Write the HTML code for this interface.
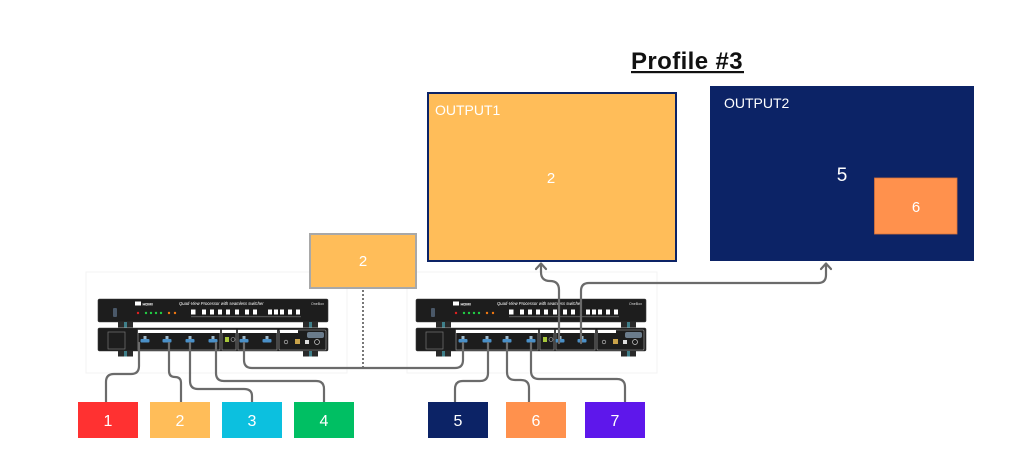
<!DOCTYPE html>
<html><head><meta charset="utf-8"><style>
html,body{margin:0;padding:0;background:#fff;}
svg{display:block;font-family:"Liberation Sans",sans-serif;}
</style></head><body>
<svg width="1024" height="461" viewBox="0 0 1024 461" xmlns="http://www.w3.org/2000/svg">
<rect width="1024" height="461" fill="#fff"/>

<!-- faint image bounds -->
<rect x="86" y="272" width="261" height="101" fill="none" stroke="#f3f3f3" stroke-width="1"/>
<rect x="407" y="272" width="250" height="101" fill="none" stroke="#f3f3f3" stroke-width="1"/>

<!-- title -->
<text x="631" y="69" font-size="24" font-weight="bold" fill="#111" letter-spacing="0.4">Profile #3</text>
<rect x="631" y="71" width="113" height="2.2" fill="#111"/>

<!-- OUTPUT1 -->
<rect x="428" y="93" width="248" height="168" fill="#ffbd59" stroke="#0c2366" stroke-width="2"/>
<text x="435" y="115" font-size="14" fill="#fff">OUTPUT1</text>
<text x="551" y="183" font-size="15" fill="#fff" text-anchor="middle">2</text>

<!-- OUTPUT2 -->
<rect x="710" y="86" width="264" height="175" fill="#0c2366"/>
<text x="724" y="108" font-size="14" fill="#fff">OUTPUT2</text>
<text x="842" y="181" font-size="19" fill="#fff" text-anchor="middle">5</text>
<rect x="874.5" y="178" width="82.5" height="56" fill="#ff914d" stroke="#d9733a" stroke-width="0.8"/>
<text x="916" y="212" font-size="15" fill="#fff" text-anchor="middle">6</text>

<!-- small box 2 -->
<rect x="310" y="234" width="106" height="54" fill="#ffbd59" stroke="#a8a8a8" stroke-width="2"/>
<text x="363" y="266" font-size="15" fill="#fff" text-anchor="middle">2</text>

<!-- dotted line -->
<line x1="363" y1="290" x2="363" y2="367" stroke="#777" stroke-width="2" stroke-dasharray="2 2"/>

<!-- LEFT DEVICE -->
<g transform="translate(98,299)">
  <rect x="0" y="0" width="230" height="23" rx="1.5" fill="#1d1d1d" stroke="#3a3a3a" stroke-width="0.6"/>
  <rect x="15" y="9" width="4" height="9" rx="1" fill="#4a5868"/>
  <rect x="37" y="2.5" width="6" height="4" fill="#fff"/>
  <text x="44.5" y="6.3" font-size="4" fill="#fff" font-weight="bold">HDMI</text>
  <text x="81" y="5.8" font-size="4.2" fill="#fff" font-style="italic">Quad-View Processor with seamless switcher</text>
  <circle cx="40" cy="14" r="1.2" fill="#e02020"/>
  <circle cx="48" cy="14" r="1.2" fill="#22cc44"/>
  <circle cx="53" cy="14" r="1.2" fill="#22cc44"/>
  <circle cx="58" cy="14" r="1.2" fill="#22cc44"/>
  <circle cx="63" cy="14" r="1.2" fill="#22cc44"/>
  <circle cx="71" cy="14" r="1.2" fill="#ee7711"/>
  <circle cx="77" cy="14" r="1.2" fill="#ee7711"/>
  <g fill="#fff">
    <rect x="93" y="10.5" width="4.5" height="5"/><rect x="104" y="10.5" width="4" height="5"/>
    <rect x="112" y="10.5" width="4" height="5"/><rect x="120" y="10.5" width="4" height="5"/>
    <rect x="128" y="10.5" width="4" height="5"/><rect x="137" y="10.5" width="4" height="5"/>
    <rect x="147" y="10.5" width="4" height="5"/><rect x="155" y="10.5" width="4" height="5"/>
    <rect x="170" y="10.5" width="4" height="5"/><rect x="176" y="10.5" width="4" height="5"/>
    <rect x="182" y="10.5" width="4" height="5"/><rect x="190" y="10.5" width="4" height="5"/>
    <rect x="198" y="10.5" width="4" height="5"/>
  </g>
  <g fill="#888"><rect x="93" y="17.5" width="110" height="0.6"/></g>
  <text x="213" y="6" font-size="3.6" fill="#ddd">OneBox</text>
  <rect x="20" y="23" width="15" height="5.5" fill="#2a2a2a"/><rect x="26" y="23" width="3" height="5.5" fill="#3f7f8a"/>
  <rect x="205" y="23" width="15" height="5.5" fill="#2a2a2a"/><rect x="211" y="23" width="3" height="5.5" fill="#3f7f8a"/>
  <rect x="0" y="29" width="230" height="23" rx="1.5" fill="#1d1d1d" stroke="#3a3a3a" stroke-width="0.6"/>
  <rect x="10" y="33" width="17" height="17" fill="none" stroke="#777" stroke-width="0.7"/>
  <g fill="none" stroke="#aaa" stroke-width="0.6">
    <rect x="40" y="31" width="82" height="20"/><rect x="124" y="31" width="14" height="20"/>
    <rect x="140" y="31" width="39" height="20"/><rect x="181" y="31" width="47" height="20" rx="1"/>
  </g>
  <g fill="#fff">
    <rect x="40" y="31" width="82" height="3"/><rect x="124" y="31" width="14" height="3"/>
    <rect x="140" y="31" width="39" height="3"/><rect x="182" y="31" width="18" height="3"/>
  </g>
  <rect x="127" y="38" width="4" height="5" fill="#a8c83a"/>
  <circle cx="135" cy="40.5" r="2" fill="none" stroke="#bbb" stroke-width="0.6"/>
  <rect x="209" y="33" width="17" height="6" rx="2" fill="#6b7c8c"/>
  <rect x="197" y="40" width="5" height="5" fill="#c9a34a"/>
  <rect x="207" y="41" width="4" height="4" fill="#ddd"/>
  <circle cx="219" cy="43" r="2.5" fill="none" stroke="#ccc" stroke-width="0.7"/>
  <circle cx="188" cy="43" r="1.8" fill="none" stroke="#ccc" stroke-width="0.6"/>
  <g fill="#4a90c8">
    <rect x="42.5" y="40" width="9" height="3.5" rx="1"/><rect x="64.5" y="40" width="9" height="3.5" rx="1"/>
    <rect x="87.5" y="40" width="9" height="3.5" rx="1"/><rect x="110.5" y="40" width="9" height="3.5" rx="1"/>
    <rect x="141.5" y="40" width="9" height="3.5" rx="1"/><rect x="164.5" y="40" width="9" height="3.5" rx="1"/>
  </g>
  <g fill="#9fb8c8">
    <rect x="45.5" y="37" width="3" height="3"/><rect x="67.5" y="37" width="3" height="3"/>
    <rect x="90.5" y="37" width="3" height="3"/><rect x="113.5" y="37" width="3" height="3"/>
    <rect x="144.5" y="37" width="3" height="3"/><rect x="167.5" y="37" width="3" height="3"/>
  </g>
  <rect x="20" y="52" width="15" height="5.5" fill="#2a2a2a"/><rect x="26" y="52" width="3" height="5.5" fill="#3f7f8a"/>
  <rect x="205" y="52" width="15" height="5.5" fill="#2a2a2a"/><rect x="211" y="52" width="3" height="5.5" fill="#3f7f8a"/>
</g>

<!-- RIGHT DEVICE -->
<g transform="translate(416,299)">
  <rect x="0" y="0" width="230" height="23" rx="1.5" fill="#1d1d1d" stroke="#3a3a3a" stroke-width="0.6"/>
  <rect x="15" y="9" width="4" height="9" rx="1" fill="#4a5868"/>
  <rect x="37" y="2.5" width="6" height="4" fill="#fff"/>
  <text x="44.5" y="6.3" font-size="4" fill="#fff" font-weight="bold">HDMI</text>
  <text x="81" y="5.8" font-size="4.2" fill="#fff" font-style="italic">Quad-View Processor with seamless switcher</text>
  <circle cx="40" cy="14" r="1.2" fill="#e02020"/>
  <circle cx="48" cy="14" r="1.2" fill="#22cc44"/>
  <circle cx="53" cy="14" r="1.2" fill="#22cc44"/>
  <circle cx="58" cy="14" r="1.2" fill="#22cc44"/>
  <circle cx="63" cy="14" r="1.2" fill="#22cc44"/>
  <circle cx="71" cy="14" r="1.2" fill="#ee7711"/>
  <circle cx="77" cy="14" r="1.2" fill="#ee7711"/>
  <g fill="#fff">
    <rect x="93" y="10.5" width="4.5" height="5"/><rect x="104" y="10.5" width="4" height="5"/>
    <rect x="112" y="10.5" width="4" height="5"/><rect x="120" y="10.5" width="4" height="5"/>
    <rect x="128" y="10.5" width="4" height="5"/><rect x="137" y="10.5" width="4" height="5"/>
    <rect x="147" y="10.5" width="4" height="5"/><rect x="155" y="10.5" width="4" height="5"/>
    <rect x="170" y="10.5" width="4" height="5"/><rect x="176" y="10.5" width="4" height="5"/>
    <rect x="182" y="10.5" width="4" height="5"/><rect x="190" y="10.5" width="4" height="5"/>
    <rect x="198" y="10.5" width="4" height="5"/>
  </g>
  <g fill="#888"><rect x="93" y="17.5" width="110" height="0.6"/></g>
  <text x="213" y="6" font-size="3.6" fill="#ddd">OneBox</text>
  <rect x="20" y="23" width="15" height="5.5" fill="#2a2a2a"/><rect x="26" y="23" width="3" height="5.5" fill="#3f7f8a"/>
  <rect x="205" y="23" width="15" height="5.5" fill="#2a2a2a"/><rect x="211" y="23" width="3" height="5.5" fill="#3f7f8a"/>
  <rect x="0" y="29" width="230" height="23" rx="1.5" fill="#1d1d1d" stroke="#3a3a3a" stroke-width="0.6"/>
  <rect x="10" y="33" width="17" height="17" fill="none" stroke="#777" stroke-width="0.7"/>
  <g fill="none" stroke="#aaa" stroke-width="0.6">
    <rect x="40" y="31" width="82" height="20"/><rect x="124" y="31" width="14" height="20"/>
    <rect x="140" y="31" width="39" height="20"/><rect x="181" y="31" width="47" height="20" rx="1"/>
  </g>
  <g fill="#fff">
    <rect x="40" y="31" width="82" height="3"/><rect x="124" y="31" width="14" height="3"/>
    <rect x="140" y="31" width="39" height="3"/><rect x="182" y="31" width="18" height="3"/>
  </g>
  <rect x="127" y="38" width="4" height="5" fill="#a8c83a"/>
  <circle cx="135" cy="40.5" r="2" fill="none" stroke="#bbb" stroke-width="0.6"/>
  <rect x="209" y="33" width="17" height="6" rx="2" fill="#6b7c8c"/>
  <rect x="197" y="40" width="5" height="5" fill="#c9a34a"/>
  <rect x="207" y="41" width="4" height="4" fill="#ddd"/>
  <circle cx="219" cy="43" r="2.5" fill="none" stroke="#ccc" stroke-width="0.7"/>
  <circle cx="188" cy="43" r="1.8" fill="none" stroke="#ccc" stroke-width="0.6"/>
  <g fill="#4a90c8">
    <rect x="42.5" y="40" width="9" height="3.5" rx="1"/><rect x="66.5" y="40" width="9" height="3.5" rx="1"/>
    <rect x="86.5" y="40" width="9" height="3.5" rx="1"/><rect x="110.5" y="40" width="9" height="3.5" rx="1"/>
    <rect x="139.5" y="40" width="9" height="3.5" rx="1"/><rect x="161.5" y="40" width="9" height="3.5" rx="1"/>
  </g>
  <g fill="#9fb8c8">
    <rect x="45.5" y="37" width="3" height="3"/><rect x="69.5" y="37" width="3" height="3"/>
    <rect x="89.5" y="37" width="3" height="3"/><rect x="113.5" y="37" width="3" height="3"/>
    <rect x="142.5" y="37" width="3" height="3"/><rect x="164.5" y="37" width="3" height="3"/>
  </g>
  <rect x="20" y="52" width="15" height="5.5" fill="#2a2a2a"/><rect x="26" y="52" width="3" height="5.5" fill="#3f7f8a"/>
  <rect x="205" y="52" width="15" height="5.5" fill="#2a2a2a"/><rect x="211" y="52" width="3" height="5.5" fill="#3f7f8a"/>
</g>

<!-- connectors -->
<g fill="none" stroke="#6b6b6b" stroke-width="2.2" stroke-linecap="round" stroke-linejoin="round">
  <path d="M139 343 V366 Q139 374 131 374 H114 Q106 374 106 382 V402"/>
  <path d="M169 343 V371 Q169 377 175 377 Q181 377 181 383 V402"/>
  <path d="M190 343 V381 Q190 389 198 389 H244 Q252 389 252 396 V402"/>
  <path d="M216 343 V373 Q216 381 224 381 H316 Q324 381 324 389 V402"/>
  <path d="M244 343 V360 Q244 368 252 368 H455 Q463 368 463 360 V343"/>
  <path d="M488 343 V373 Q488 381 480 381 H463 Q455 381 455 389 V402"/>
  <path d="M507 343 V372 Q507 380 515 380 H521 Q529 380 529 388 V402"/>
  <path d="M531 343 V371 Q531 379 539 379 H617 Q625 379 625 387 V402"/>
  <path d="M559 343 V290 Q559 281 550 281 Q541 281 541 272 V264"/>
  <path d="M536 269 L541 263.5 L546 269"/>
  <path d="M581 343 V291 Q581 283 589 283 H818 Q826 283 826 275 V264"/>
  <path d="M821 269 L826 263.5 L831 269"/>
</g>

<!-- source boxes -->
<rect x="78" y="402" width="60" height="36" fill="#ff3131"/>
<rect x="150" y="402" width="60" height="36" fill="#ffbd59"/>
<rect x="222" y="402" width="60" height="36" fill="#0cc0df"/>
<rect x="294" y="402" width="60" height="36" fill="#00bf63"/>
<rect x="428" y="402" width="60" height="36" fill="#0c2366"/>
<rect x="506" y="402" width="60" height="36" fill="#ff914d"/>
<rect x="585" y="402" width="60" height="36" fill="#5e17eb"/>
<g font-size="16" fill="#fff" text-anchor="middle">
  <text x="108" y="426">1</text>
  <text x="180" y="426">2</text>
  <text x="252" y="426">3</text>
  <text x="324" y="426">4</text>
  <text x="458" y="426">5</text>
  <text x="536" y="426">6</text>
  <text x="615" y="426">7</text>
</g>
</svg>
</body></html>
